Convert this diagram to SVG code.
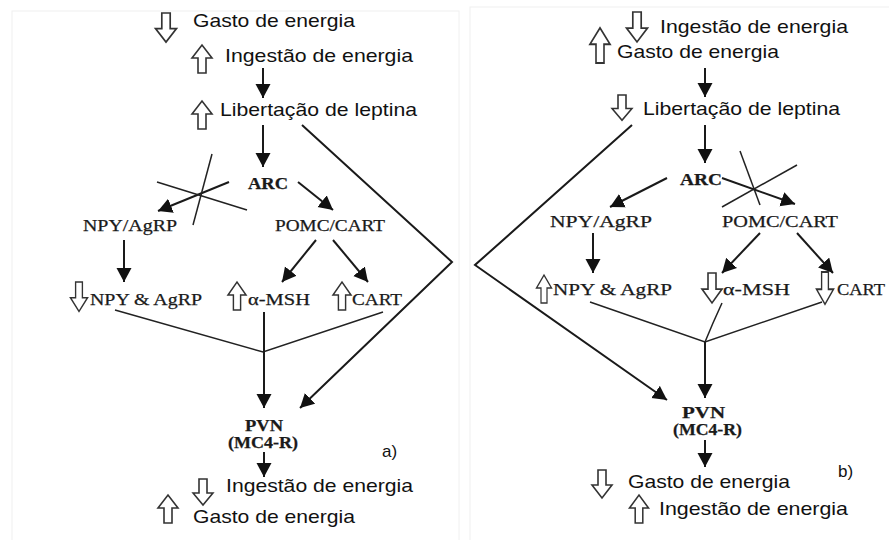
<svg xmlns="http://www.w3.org/2000/svg" xmlns:xlink="http://www.w3.org/1999/xlink" width="889" height="540" viewBox="0 0 889 540">
<style>
.sans{font-family:"Liberation Sans",Arial,sans-serif;font-size:19px;fill:#111}
.ser{font-family:"Liberation Serif","Times New Roman",serif;font-size:17px;fill:#1a1a1a;stroke:#1a1a1a;stroke-width:0.25}
.bold{font-weight:bold;font-size:17px}
.hol{fill:#fff;stroke:#333;stroke-width:1.6;stroke-linejoin:miter}
.ln{fill:none;stroke:#1a1a1a;stroke-width:2}
.thin{fill:none;stroke:#222;stroke-width:1.5}
.frame{fill:none;stroke:#f0f0f0;stroke-width:1}
</style>
<defs>
<marker id="ah" markerUnits="userSpaceOnUse" markerWidth="16" markerHeight="16" refX="14" refY="7.5" orient="auto"><path d="M0,0 L14,7.5 L0,15 Z" fill="#111"/></marker>
<path id="dn" d="M-4,0 H4 V15 H10 L0,28 L-10,15 H-4 Z"/>
<path id="up" d="M-4,28 H4 V13 H10 L0,0 L-10,13 H-4 Z"/>
</defs>
<rect width="889" height="540" fill="#fff"/>
<rect class="frame" x="12" y="11" width="447" height="535"/>
<rect class="frame" x="470" y="7" width="425" height="540"/>

<g id="connectors">
<line class="ln" x1="263" y1="68" x2="263" y2="98" marker-end="url(#ah)"/>
<line class="ln" x1="263" y1="125" x2="263" y2="167" marker-end="url(#ah)"/>
<polyline class="ln" points="302,125 452,262 300,408" marker-end="url(#ah)"/>
<line class="ln" x1="229" y1="182" x2="158" y2="211" marker-end="url(#ah)"/>
<line class="ln" x1="298" y1="182" x2="333" y2="210" marker-end="url(#ah)"/>
<line class="thin" x1="157" y1="182" x2="247" y2="210"/>
<line class="thin" x1="212" y1="154" x2="193" y2="225"/>
<line class="ln" x1="124" y1="240" x2="124" y2="282" marker-end="url(#ah)"/>
<line class="ln" x1="316" y1="240" x2="282" y2="282" marker-end="url(#ah)"/>
<line class="ln" x1="333" y1="240" x2="368" y2="282" marker-end="url(#ah)"/>
<polyline class="thin" points="115,310 263,352 383,312"/>
<line class="ln" x1="264" y1="312" x2="264" y2="408" marker-end="url(#ah)"/>
<line class="ln" x1="264" y1="452" x2="264" y2="477" marker-end="url(#ah)"/>

<line class="ln" x1="705" y1="68" x2="705" y2="97" marker-end="url(#ah)"/>
<line class="ln" x1="705" y1="125" x2="705" y2="163" marker-end="url(#ah)"/>
<polyline class="ln" points="632,125 475,265 667,400" marker-end="url(#ah)"/>
<line class="ln" x1="667" y1="178" x2="610" y2="207" marker-end="url(#ah)"/>
<line class="ln" x1="722" y1="178" x2="795" y2="204" marker-end="url(#ah)"/>
<line class="thin" x1="722" y1="207" x2="797" y2="165"/>
<line class="thin" x1="740" y1="151" x2="760" y2="205"/>
<line class="ln" x1="593" y1="233" x2="593" y2="273" marker-end="url(#ah)"/>
<line class="ln" x1="760" y1="233" x2="722" y2="273" marker-end="url(#ah)"/>
<line class="ln" x1="797" y1="233" x2="833" y2="273" marker-end="url(#ah)"/>
<polyline class="thin" points="590,302 705,342 822,302"/>
<polyline class="thin" points="722,303 713,323 705,342"/>
<line class="ln" x1="705" y1="342" x2="705" y2="398" marker-end="url(#ah)"/>
<line class="ln" x1="705" y1="440" x2="705" y2="467" marker-end="url(#ah)"/>
</g>

<g id="a-gasto-top"><use href="#dn" class="hol" transform="translate(166,13) scale(1.05,1.04)"/><text class="sans" x="193" y="27" textLength="162" lengthAdjust="spacingAndGlyphs">Gasto de energia</text></g>
<g id="a-ingestao-top"><use href="#up" class="hol" x="202" y="45"/><text class="sans" x="225" y="62" textLength="188" lengthAdjust="spacingAndGlyphs">Ingestão de energia</text></g>
<g id="a-leptina"><use href="#up" class="hol" x="202" y="101"/><text class="sans" x="220" y="116" textLength="197" lengthAdjust="spacingAndGlyphs">Libertação de leptina</text></g>
<g id="a-arc"><text class="ser bold" x="248" y="189" textLength="40" lengthAdjust="spacingAndGlyphs">ARC</text></g>
<g id="a-npyagrp"><text class="ser" x="83" y="231" textLength="94" lengthAdjust="spacingAndGlyphs">NPY/AgRP</text></g>
<g id="a-pomc"><text class="ser" x="275" y="231" textLength="110" lengthAdjust="spacingAndGlyphs">POMC/CART</text></g>
<g id="a-npy-agrp"><use href="#dn" class="hol" transform="translate(79,282) scale(0.85,1.05)"/><text class="ser" x="90" y="305" textLength="112" lengthAdjust="spacingAndGlyphs">NPY &amp; AgRP</text></g>
<g id="a-msh"><use href="#up" class="hol" transform="translate(237,282) scale(0.9,1)"/><text class="ser" x="248" y="305" textLength="62" lengthAdjust="spacingAndGlyphs">α-MSH</text></g>
<g id="a-cart"><use href="#up" class="hol" transform="translate(342,282) scale(0.9,1)"/><text class="ser" x="352" y="305" textLength="50" lengthAdjust="spacingAndGlyphs">CART</text></g>
<g id="a-pvn"><text class="ser bold" x="245" y="431" textLength="38" lengthAdjust="spacingAndGlyphs">PVN</text><text class="ser bold" x="228" y="448" textLength="70" lengthAdjust="spacingAndGlyphs" style="font-size:16px">(MC4-R)</text></g>
<g id="a-label"><text class="sans" x="382" y="457" style="font-size:17px">a)</text></g>
<g id="a-ingestao-bot"><use href="#dn" class="hol" transform="translate(203,479) scale(1,0.93)"/><text class="sans" x="226" y="492" textLength="187" lengthAdjust="spacingAndGlyphs">Ingestão de energia</text></g>
<g id="a-gasto-bot"><use href="#up" class="hol" x="168" y="495"/><text class="sans" x="193" y="523" textLength="162" lengthAdjust="spacingAndGlyphs">Gasto de energia</text></g>

<g id="b-ingestao-top"><use href="#dn" class="hol" transform="translate(637,12) scale(1.05,1.07)"/><text class="sans" x="660" y="33" textLength="188" lengthAdjust="spacingAndGlyphs">Ingestão de energia</text></g>
<g id="b-gasto-top"><use href="#up" class="hol" transform="translate(600,28) scale(1,1.25)"/><text class="sans" x="617" y="58" textLength="162" lengthAdjust="spacingAndGlyphs">Gasto de energia</text></g>
<g id="b-leptina"><use href="#dn" class="hol" transform="translate(622,95) scale(1,0.9)"/><text class="sans" x="643" y="115" textLength="197" lengthAdjust="spacingAndGlyphs">Libertação de leptina</text></g>
<g id="b-arc"><text class="ser bold" x="680" y="185" textLength="42" lengthAdjust="spacingAndGlyphs">ARC</text></g>
<g id="b-npyagrp"><text class="ser" x="550" y="227" textLength="102" lengthAdjust="spacingAndGlyphs">NPY/AgRP</text></g>
<g id="b-pomc"><text class="ser" x="722" y="227" textLength="116" lengthAdjust="spacingAndGlyphs">POMC/CART</text></g>
<g id="b-npy-agrp"><use href="#up" class="hol" transform="translate(544,275) scale(0.75,1)"/><text class="ser" x="553" y="295" textLength="119" lengthAdjust="spacingAndGlyphs">NPY &amp; AgRP</text></g>
<g id="b-msh"><use href="#dn" class="hol" transform="translate(712,273) scale(1,1.07)"/><text class="ser" x="723" y="295" textLength="67" lengthAdjust="spacingAndGlyphs">α-MSH</text></g>
<g id="b-cart"><use href="#dn" class="hol" transform="translate(825,272) scale(0.85,1.15)"/><text class="ser" x="837" y="295" textLength="48" lengthAdjust="spacingAndGlyphs">CART</text></g>
<g id="b-pvn"><text class="ser bold" x="682" y="418" textLength="43" lengthAdjust="spacingAndGlyphs">PVN</text><text class="ser bold" x="673" y="435" textLength="69" lengthAdjust="spacingAndGlyphs" style="font-size:16px">(MC4-R)</text></g>
<g id="b-label"><text class="sans" x="838" y="477" style="font-size:17px">b)</text></g>
<g id="b-gasto-bot"><use href="#dn" class="hol" transform="translate(602,470)"/><text class="sans" x="628" y="488" textLength="162" lengthAdjust="spacingAndGlyphs">Gasto de energia</text></g>
<g id="b-ingestao-bot"><use href="#up" class="hol" transform="translate(639,495) scale(0.95,1)"/><text class="sans" x="659" y="515" textLength="189" lengthAdjust="spacingAndGlyphs">Ingestão de energia</text></g>
</svg>
